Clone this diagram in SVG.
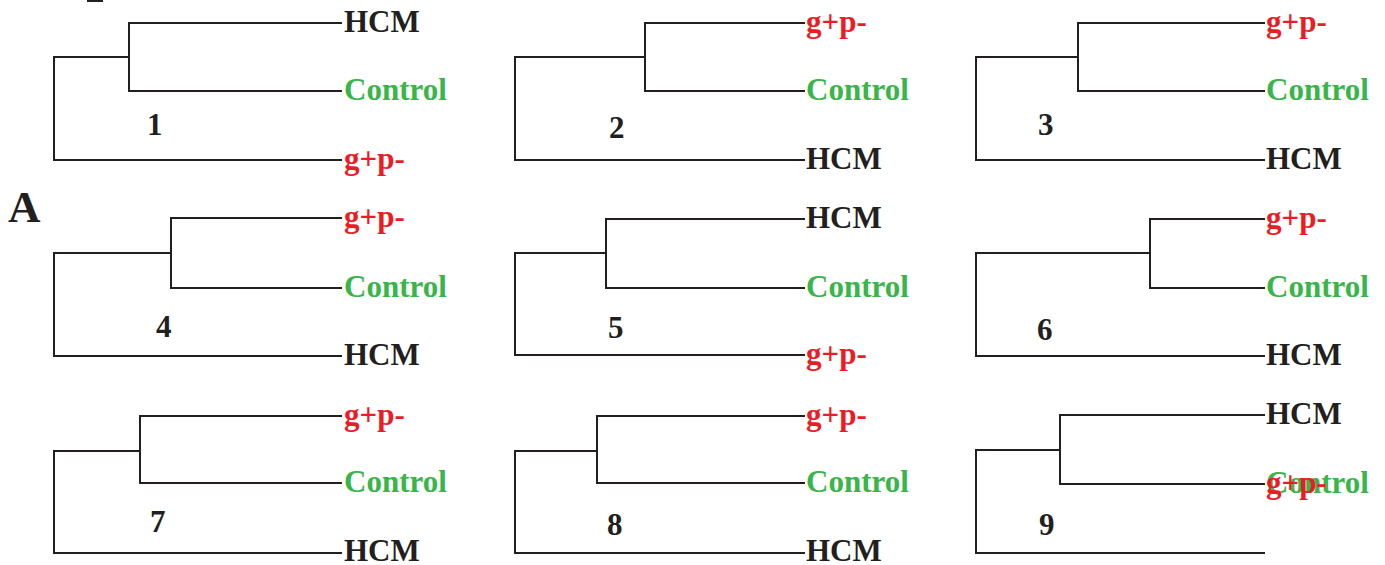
<svg xmlns="http://www.w3.org/2000/svg" width="1385" height="565" viewBox="0 0 1385 565">
<style>
.e{fill:none;stroke:#231f20;stroke-width:2}
text{font-family:"Liberation Serif","Times New Roman",serif;font-weight:bold;font-size:31px}
.k{fill:#231f20}
.r{fill:#ed1c24}
.g{fill:#39b54a}
.n{fill:#231f20}
</style>
<rect width="1385" height="565" fill="#ffffff"/>
<rect x="87" y="0" width="16" height="2" fill="#231f20"/>
<text x="8" y="222" class="k" style="font-size:45px">A</text>
<g id="connectors">
<path class="e" d="M342,23H129V91H342M129,57H54V160H342"/>
<path class="e" d="M805,23H645V91H805M645,57H515V160H805"/>
<path class="e" d="M1265,23H1078V91H1265M1078,57H976V160H1265"/>
<path class="e" d="M342,218H171V288H342M171,253H54V356H342"/>
<path class="e" d="M805,219H606V288H805M606,253H515V355H805"/>
<path class="e" d="M1265,219H1150V288H1265M1150,253H976V356H1265"/>
<path class="e" d="M342,416H140V483H342M140,451H54V553H342"/>
<path class="e" d="M805,416H597V483H805M597,451H515V553H805"/>
<path class="e" d="M1265,415H1060V484H1265M1060,450H976V553H1265"/>
</g>
<g id="tree1">
<text x="344" y="32" class="k">HCM</text>
<text x="344" y="100" class="g">Control</text>
<text x="344" y="169" class="r">g+p-</text>
<text x="147" y="135" class="n">1</text>
</g>
<g id="tree2">
<text x="806" y="32" class="r">g+p-</text>
<text x="806" y="100" class="g">Control</text>
<text x="806" y="169" class="k">HCM</text>
<text x="609" y="138" class="n">2</text>
</g>
<g id="tree3">
<text x="1266" y="32" class="r">g+p-</text>
<text x="1266" y="100" class="g">Control</text>
<text x="1266" y="169" class="k">HCM</text>
<text x="1038" y="135" class="n">3</text>
</g>
<g id="tree4">
<text x="344" y="227" class="r">g+p-</text>
<text x="344" y="297" class="g">Control</text>
<text x="344" y="365" class="k">HCM</text>
<text x="156" y="337" class="n">4</text>
</g>
<g id="tree5">
<text x="806" y="228" class="k">HCM</text>
<text x="806" y="297" class="g">Control</text>
<text x="806" y="364" class="r">g+p-</text>
<text x="608" y="338" class="n">5</text>
</g>
<g id="tree6">
<text x="1266" y="228" class="r">g+p-</text>
<text x="1266" y="297" class="g">Control</text>
<text x="1266" y="365" class="k">HCM</text>
<text x="1037" y="340" class="n">6</text>
</g>
<g id="tree7">
<text x="344" y="425" class="r">g+p-</text>
<text x="344" y="492" class="g">Control</text>
<text x="344" y="561" class="k">HCM</text>
<text x="150" y="532" class="n">7</text>
</g>
<g id="tree8">
<text x="806" y="425" class="r">g+p-</text>
<text x="806" y="492" class="g">Control</text>
<text x="806" y="561" class="k">HCM</text>
<text x="607" y="535" class="n">8</text>
</g>
<g id="tree9">
<text x="1266" y="424" class="k">HCM</text>
<text x="1266" y="493" class="g">Control</text>
<text x="1266" y="493" class="r">g+p-</text>
<text x="1039" y="535" class="n">9</text>
</g>
</svg>
